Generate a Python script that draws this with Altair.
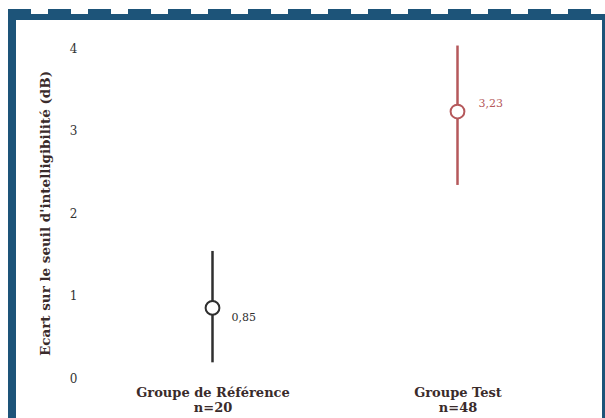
import altair as alt
import pandas as pd

# Group means and spread of the intelligibility-threshold gap (dB)
groups = ["Groupe de Référence", "Groupe Test"]
sizes = [20, 48]
means = [0.85, 3.23]
lows = [0.19, 2.34]
highs = [1.54, 4.03]
colors = ["#2f2f2f", "#b5585b"]
y_ticks = [0, 1, 2, 3, 4]

FRAME = "#1d5479"
SERIF = "DejaVu Serif"

cats = [f"{g}|n={n}" for g, n in zip(groups, sizes)]
df = pd.DataFrame({"cat": cats, "mean": means, "low": lows, "high": highs})

x = alt.X(
    "cat:N",
    sort=cats,
    scale=alt.Scale(type="point", padding=0.5),
    axis=alt.Axis(
        title=None, ticks=False, domain=False, labelAngle=0,
        labelExpr="split(datum.label, '|')",
        labelFont=SERIF, labelFontWeight="bold", labelFontSize=13,
        labelColor="#3a2b2b", labelLineHeight=15, labelPadding=8,
    ),
)
y_scale = alt.Scale(domain=[0, 4], nice=False)
color = alt.Color("cat:N", scale=alt.Scale(domain=cats, range=colors), legend=None)

base = alt.Chart(df)

bars = base.mark_rule(strokeWidth=2.5).encode(
    x=x,
    y=alt.Y(
        "low:Q", scale=y_scale,
        axis=alt.Axis(
            title="Ecart sur le seuil d'intelligibilité (dB)",
            values=y_ticks, format="d", grid=False, ticks=False, domain=False,
            labelFont=SERIF, labelFontSize=12, labelColor="#333333",
            labelAlign="center", labelPadding=17,
            titleFont=SERIF, titleFontWeight="bold", titleFontSize=13.5,
            titleColor="#3a2b2b", titleX=-45, titleY=165,
            titleAngle=-90, titleAlign="center", titleBaseline="middle",
        ),
    ),
    y2="high:Q",
    stroke=color,
)

points = base.mark_point(
    shape="circle", filled=True, fill="white", opacity=1,
    strokeWidth=2, size=190,
).encode(x=x, y=alt.Y("mean:Q", scale=y_scale), stroke=color)


def value_label(cat, dx, dy):
    return base.transform_filter(
        alt.datum.cat == cat
    ).transform_calculate(
        txt="replace(format(datum.mean, '.2f'), '.', ',')"
    ).mark_text(
        align="left", baseline="middle", dx=dx, dy=dy,
        font=SERIF, fontSize=11,
    ).encode(
        x=x, y=alt.Y("mean:Q", scale=y_scale), text="txt:N", color=color
    )


labels = value_label(cats[0], 19, 10) + value_label(cats[1], 21, -8)

# Decorative frame: left and right borders, top band with crenellations
frame_left = base.mark_rule(color=FRAME, strokeWidth=8).encode(
    x=alt.value(-78), y=alt.value(-39), y2=alt.value(380)
)
frame_right = base.mark_rule(color=FRAME, strokeWidth=3).encode(
    x=alt.value(513.5), y=alt.value(-34), y2=alt.value(380)
)
frame_band = base.mark_rule(color=FRAME, strokeWidth=6).encode(
    x=alt.value(-82), x2=alt.value(515), y=alt.value(-31)
)
frame_teeth = base.mark_rule(color=FRAME, strokeWidth=6, strokeDash=[23, 17]).encode(
    x=alt.value(-82), x2=alt.value(512), y=alt.value(-36)
)

chart = alt.layer(
    frame_band, frame_teeth, frame_left, frame_right, bars, points, labels
).properties(
    width=490, height=330,
    autosize=alt.AutoSizeParams(type="none"),
    padding={"left": 90, "top": 48, "right": 25, "bottom": 40},
    background="white",
).configure_view(stroke=None)

chart.save("out.html", embed_options={"renderer": "svg", "actions": False})
